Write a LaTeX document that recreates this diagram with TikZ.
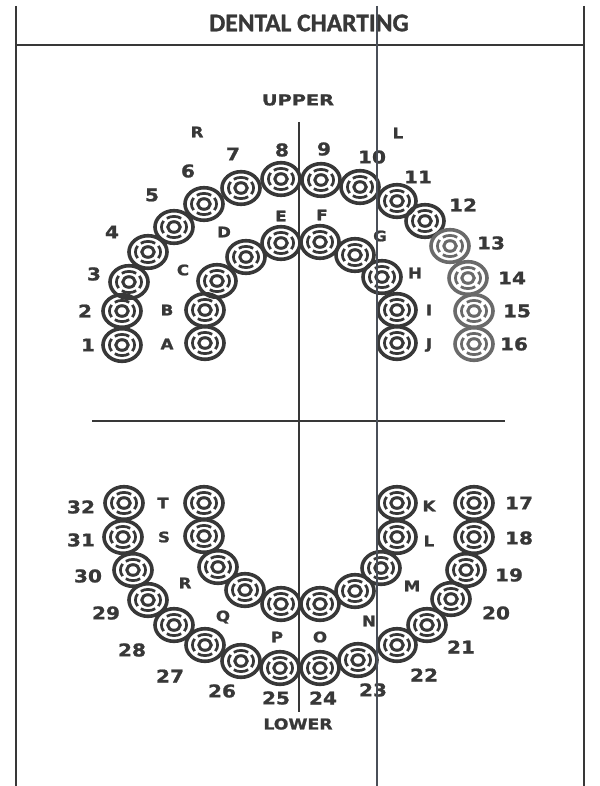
\documentclass[tikz,border=0pt]{standalone}
\usepackage{fontspec}
\newfontfamily\titlefont{Carlito Bold}[FakeBold=1.2]
\newfontfamily\labfont{DejaVu Sans Bold}[FakeStretch=1.15, FakeBold=1.2]
\definecolor{ink}{HTML}{383838}
\definecolor{faded}{HTML}{6A6A6A}
\definecolor{scanline}{HTML}{4A4F58}
\tikzset{
  toothpic/.pic={
    \draw[line width=3.6pt] (0,0) ellipse [x radius=19, y radius=16.3];
    \draw[line width=3pt] (0,0) ellipse [x radius=6.2, y radius=5.3];
    \foreach \a in {0,90,180,270}{
      \draw[line width=2.7pt] (\a-35:12.6 and 10.6) arc[start angle=\a-35, end angle=\a+35, x radius=12.6, y radius=10.6];
    }
  },
  numlab/.style={font=\labfont\fontsize{17.5}{17.5}\selectfont, text=ink, inner sep=0pt},
  letlab/.style={font=\labfont\fontsize{14.5}{14.5}\selectfont, text=ink, inner sep=0pt},
  wordlab/.style={font=\labfont\fontsize{15}{15}\selectfont, text=ink, inner sep=0pt},
  frameline/.style={line width=1.8pt, draw=ink},
  midline/.style={line width=2.8pt, draw=ink}
}
\begin{document}
\begin{tikzpicture}[x=1pt, y=-1pt]
\useasboundingbox (0,0) rectangle (599,786);
% frame
\coordinate (tl) at (16,6);
\coordinate (bl) at (16,786);
\coordinate (tr) at (584,6);
\coordinate (br) at (584,786);
\coordinate (hl) at (16,45);
\coordinate (hr) at (584,45);
\draw[frameline] (tl) -- (bl);
\draw[frameline] (tr) -- (br);
\draw[frameline] (hl) -- (hr);
\node[font=\titlefont\fontsize{25.5}{25.5}\selectfont, text=ink, inner sep=0pt] (title) at (309,23) {DENTAL CHARTING};
% midlines
\coordinate (mt) at (299,122);
\coordinate (mb) at (299,712);
\coordinate (ml) at (92,421);
\coordinate (mr) at (505,421);
\draw[midline] (mt) -- (mb);
\draw[midline] (ml) -- (mr);
% teeth (dark)
\foreach \x/\y in {122/345,122/311,129/282,148/252,174/227,204/204,241/188,281/179,
  321/180,360/187,397/201,425/221,
  205/343,205/310,217/281,246/257,281/243,320/242,355/255,382/277,397/310,397/343,
  124/503,123/537,133/570,148/600,174/625,205/645,241/661,280/668,
  320/668,358/660,397/645,427/625,451/599,466/570,474/537,474/503,
  204/503,204/536,218/567,245/590,281/604,320/604,355/591,381/568,397/537,397/503}
  \pic[draw=ink] at (\x,\y) {toothpic};
% faded teeth
\foreach \x/\y in {450/246,468/278,474/311,474/344}
  \pic[draw=faded] at (\x,\y) {toothpic};
% number labels
\foreach \n/\x/\y in {1/88/345,2/85/311,3/94/274,4/112/232,5/152/195,6/188/171,7/233/154,8/282/150,
  9/324/149,10/372/157,11/418/177,12/463/205,13/491/243,14/512/278,15/517/311,16/514/344,
  17/519/503,18/519/538,19/509/575,20/496/613,21/461/647,22/424/675,23/373/690,24/323/698,
  25/276/698,26/222/691,27/170/676,28/132/650,29/106/613,30/88/576,31/81/540,32/81/507}
  \node[numlab] (n\n) at (\x,\y) {\n};
% upper primary letters
\foreach \l/\x/\y in {A/167/344,B/167/310,C/183/270,D/224/232,E/281/216,F/322/215,G/380/236,H/415/273,I/429/310,J/429/345}
  \node[letlab] (u\l) at (\x,\y) {\l};
% lower primary letters
\foreach \l/\x/\y in {K/429/506,L/429/541,M/412/586,N/369/621,O/320/637,P/277/637,Q/223/617,R/185/583,S/164/537,T/163/503}
  \node[letlab] (d\l) at (\x,\y) {\l};
% side letters
\node[letlab] (sideR) at (197,132) {R};
\node[letlab] (sideL) at (398,133) {L};
\node[wordlab] (upper) at (298,100) {\scalebox{1.12}[1]{UPPER}};
\node[wordlab] (lower) at (298,724) {LOWER};
% scan line
\coordinate (st) at (377,6);
\coordinate (sb) at (377,786);
\draw[line width=2pt, draw=scanline] (st) -- (sb);
\end{tikzpicture}
\end{document}
